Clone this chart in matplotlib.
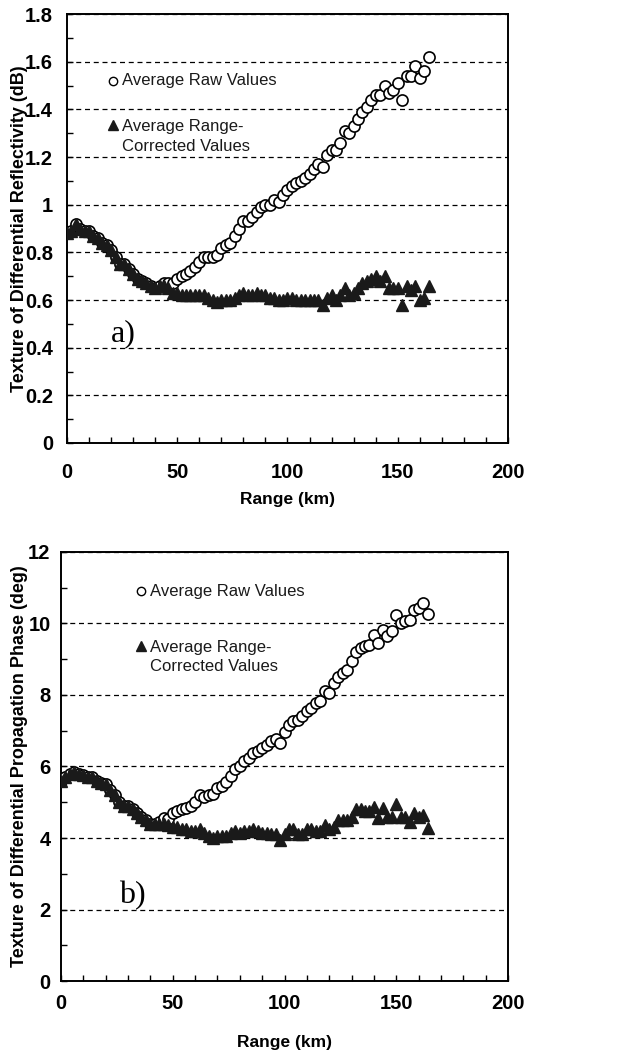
import matplotlib
matplotlib.use("Agg")
import matplotlib.pyplot as plt
from matplotlib.ticker import MultipleLocator, FuncFormatter

plt.rcParams['font.family'] = ['Liberation Sans', 'DejaVu Sans']

# ---------------- data ----------------
range_km = list(range(0, 166, 2))  # 0..164 km, 2 km steps

# Panel a) texture of differential reflectivity (dB)
zdr_corrected = [
    0.88, 0.89, 0.92, 0.90, 0.89, 0.89, 0.87, 0.86, 0.84, 0.83,
    0.81, 0.78, 0.75, 0.75, 0.73, 0.71, 0.69, 0.68, 0.67, 0.66,
    0.65, 0.66, 0.66, 0.65, 0.63, 0.63, 0.62, 0.62, 0.62, 0.62,
    0.62, 0.62, 0.61, 0.60, 0.59, 0.60, 0.60, 0.60, 0.61, 0.62,
    0.63, 0.62, 0.62, 0.63, 0.62, 0.62, 0.61, 0.61, 0.60, 0.60,
    0.61, 0.61, 0.60, 0.60, 0.60, 0.60, 0.60, 0.60, 0.58, 0.61,
    0.62, 0.60, 0.62, 0.65, 0.62, 0.63, 0.65, 0.67, 0.68, 0.69,
    0.70, 0.68, 0.70, 0.65, 0.65, 0.65, 0.58, 0.66, 0.64, 0.66,
    0.60, 0.61, 0.66]
zdr_raw = [
    0.88, 0.89, 0.92, 0.90, 0.89, 0.89, 0.87, 0.86, 0.84, 0.83,
    0.81, 0.78, 0.75, 0.75, 0.73, 0.71, 0.69, 0.68, 0.67, 0.66,
    0.65, 0.66, 0.67, 0.67, 0.67, 0.69, 0.70, 0.71, 0.72, 0.74,
    0.76, 0.78, 0.78, 0.78, 0.79, 0.82, 0.83, 0.84, 0.87, 0.90,
    0.93, 0.93, 0.95, 0.97, 0.99, 1.00, 1.00, 1.02, 1.01, 1.04,
    1.06, 1.08, 1.09, 1.10, 1.11, 1.13, 1.15, 1.17, 1.16, 1.21,
    1.23, 1.23, 1.26, 1.31, 1.30, 1.33, 1.36, 1.39, 1.41, 1.44,
    1.46, 1.46, 1.50, 1.47, 1.48, 1.51, 1.44, 1.54, 1.54, 1.58,
    1.53, 1.56, 1.62]

# Panel b) texture of differential propagation phase (deg)
phi_corrected = [
    5.60, 5.70, 5.80, 5.85, 5.80, 5.75, 5.70, 5.70, 5.60, 5.55,
    5.50, 5.35, 5.20, 5.00, 4.90, 4.90, 4.80, 4.70, 4.60, 4.50,
    4.40, 4.40, 4.40, 4.40, 4.35, 4.30, 4.30, 4.25, 4.25, 4.20,
    4.20, 4.25, 4.15, 4.05, 4.00, 4.05, 4.05, 4.05, 4.15, 4.20,
    4.15, 4.20, 4.20, 4.25, 4.20, 4.15, 4.15, 4.10, 4.10, 3.95,
    4.10, 4.25, 4.25, 4.10, 4.10, 4.25, 4.25, 4.20, 4.20, 4.35,
    4.25, 4.30, 4.50, 4.50, 4.50, 4.60, 4.80, 4.80, 4.75, 4.75,
    4.88, 4.57, 4.85, 4.60, 4.60, 4.94, 4.60, 4.60, 4.45, 4.70,
    4.60, 4.64, 4.29]
phi_raw = [
    5.60, 5.70, 5.80, 5.85, 5.80, 5.75, 5.70, 5.70, 5.60, 5.55,
    5.50, 5.35, 5.20, 5.00, 4.90, 4.90, 4.80, 4.70, 4.60, 4.50,
    4.40, 4.40, 4.45, 4.57, 4.52, 4.70, 4.75, 4.80, 4.85, 4.90,
    5.00, 5.20, 5.15, 5.20, 5.22, 5.40, 5.45, 5.57, 5.73, 5.92,
    6.01, 6.15, 6.24, 6.38, 6.43, 6.52, 6.60, 6.70, 6.78, 6.66,
    6.97, 7.15, 7.27, 7.29, 7.40, 7.55, 7.65, 7.77, 7.83, 8.11,
    8.06, 8.34, 8.50, 8.62, 8.71, 8.95, 9.20, 9.32, 9.37, 9.41,
    9.69, 9.46, 9.83, 9.65, 9.79, 10.23, 10.00, 10.08, 10.10, 10.39,
    10.44, 10.58, 10.27]

x_ticks = [0, 50, 100, 150, 200]
legend_raw = "Average Raw Values"
legend_cor = "Average Range-\nCorrected Values"

# ---------------- figure ----------------
fig = plt.figure(figsize=(6.17, 10.56), dpi=100)
axA = fig.add_axes([0.1086, 0.5805, 0.7147, 0.4062])
axB = fig.add_axes([0.0989, 0.0710, 0.7245, 0.4063])

fmt = FuncFormatter(lambda v, p: '%g' % round(v, 6))


def style(ax, ymax, ymajor, yminor, ylabel, xpad, ypad, xlabpad, ylabpad):
    ax.set_xlim(0, 200)
    ax.set_ylim(0, ymax)
    ax.set_xticks(x_ticks)
    ax.xaxis.set_minor_locator(MultipleLocator(10))
    ax.yaxis.set_major_locator(MultipleLocator(ymajor))
    ax.yaxis.set_minor_locator(MultipleLocator(yminor))
    ax.yaxis.set_major_formatter(fmt)
    ax.tick_params(which='both', direction='in', width=1.0, length=4)
    ax.tick_params(axis='x', which='both', pad=xpad, labelsize=14.5)
    ax.tick_params(axis='y', which='both', pad=ypad, labelsize=14.5)
    for lab in ax.get_xticklabels() + ax.get_yticklabels():
        lab.set_fontweight('bold')
    for s in ax.spines.values():
        s.set_linewidth(1.4)
    ax.grid(True, axis='y', which='major', color='black', linestyle=(0, (4, 3)),
            linewidth=0.9)
    ax.set_axisbelow(True)
    ax.set_xlabel("Range (km)", fontsize=12.5, fontweight='bold', labelpad=xlabpad)
    ax.set_ylabel(ylabel, fontsize=13, fontweight='bold', labelpad=ylabpad)


style(axA, 1.8, 0.2, 0.1, "Texture of Differential Reflectivity (dB)",
      xpad=14.5, ypad=10, xlabpad=7, ylabpad=-2)
style(axB, 12, 2, 1, "Texture of Differential Propagation Phase (deg)",
      xpad=9, ypad=7.5, xlabpad=16, ylabpad=0)

mk_c = dict(marker='o', markersize=8, markerfacecolor='white',
            markeredgecolor='black', markeredgewidth=1.2, linestyle='none')
mk_t = dict(marker='^', markersize=8.5, markerfacecolor='#1a1a1a',
            markeredgecolor='#1a1a1a', linestyle='none')

axA.plot(range_km, zdr_raw, **mk_c, zorder=3)
axA.plot(range_km, zdr_corrected, **mk_t, zorder=4)
axB.plot(range_km, phi_raw, **mk_c, zorder=3)
axB.plot(range_km, phi_corrected, **mk_t, zorder=4)


# legends (manual keys)
def legend(ax, xk, yr, yc, fs=12):
    ax.plot([xk], [yr], marker='o', markersize=6, markerfacecolor='white',
            markeredgecolor='black', markeredgewidth=1.0, linestyle='none',
            transform=ax.transAxes, clip_on=False)
    ax.plot([xk], [yc], marker='^', markersize=7, color='#1a1a1a',
            linestyle='none', transform=ax.transAxes, clip_on=False)
    ax.text(xk + 0.02, yr, legend_raw, transform=ax.transAxes, fontsize=fs,
            va='center', ha='left', color='#1a1a1a')
    ax.text(xk + 0.02, yc + 0.014, legend_cor, transform=ax.transAxes, fontsize=fs,
            va='top', ha='left', linespacing=1.4, color='#1a1a1a')


legend(axA, 21 / 200, 1.52 / 1.8, 1.335 / 1.8)
legend(axB, 36 / 200, 10.9 / 12, 9.38 / 12)

axA.text(20, 0.46, "a)", fontsize=23, family=['Liberation Serif', 'DejaVu Serif'],
         ha='left', va='center')
axB.text(26, 2.4, "b)", fontsize=23, family=['Liberation Serif', 'DejaVu Serif'],
         ha='left', va='center')

fig.savefig("out.png", dpi=100)
